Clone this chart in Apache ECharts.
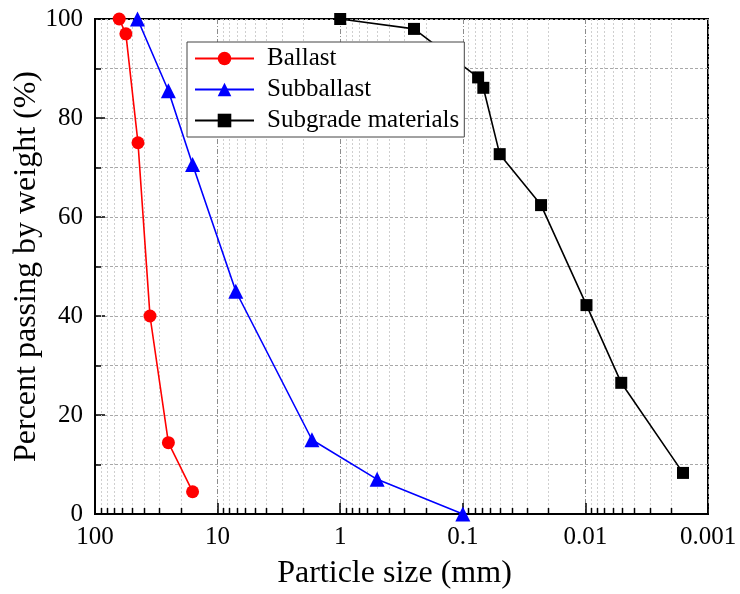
<!DOCTYPE html>
<html>
<head>
<meta charset="utf-8">
<script src="https://cdn.jsdelivr.net/npm/echarts@6/dist/echarts.min.js"></script>
<style>
  html, body { margin: 0; padding: 0; background: #fff; }
  #chart { width: 740px; height: 594px; }
</style>
</head>
<body>
<div id="chart"></div>
<script>
// Grain size distribution: percent passing vs particle size (log scale, reversed)
const FONT = '"Liberation Serif", "Times New Roman", serif'

const ballastSize = [63.5, 56, 44.6, 35.6, 25.2, 16]
const ballastPass = [100, 97, 75, 40, 14.4, 4.5]

const subballastSize = [45, 25.2, 16, 7.1, 1.7, 0.5, 0.1]
const subballastPass = [100, 85.5, 70.6, 45, 15, 7, 0]

const subgradeSize = [1, 0.25, 0.075, 0.068, 0.05, 0.023, 0.0098, 0.0051, 0.0016]
const subgradePass = [100, 98, 88.2, 86.1, 72.7, 62.4, 42.2, 26.5, 8.3]

// minor log positions (2..9 in each decade) for the light grid and short ticks
const minorSizes = []
;[10, 1, 0.1, 0.01, 0.001].forEach(function (d) {
  for (let k = 2; k <= 9; k++) minorSizes.push(+(d * k).toPrecision(2))
})

function pairs(xs, ys) {
  return xs.map(function (x, i) { return [x, ys[i]] })
}

const chart = echarts.init(document.getElementById('chart'))

chart.setOption({
  animation: false,
  backgroundColor: '#fff',
  textStyle: { fontFamily: FONT },
  grid: {
    left: 95, right: 32, top: 19, bottom: 80,
    outerBoundsMode: 'none', containLabel: false,
    show: true, borderColor: '#000', borderWidth: 2
  },
  legend: {
    data: ['Ballast', 'Subballast', 'Subgrade materials'],
    orient: 'vertical',
    left: 187, top: 42,
    padding: [4, 5, 4, 7],
    itemGap: 6,
    itemWidth: 59, itemHeight: 17,
    backgroundColor: '#fff',
    borderColor: '#444', borderWidth: 1,
    selectedMode: false,
    textStyle: { fontFamily: FONT, fontSize: 25, color: '#000', padding: [0, 0, 0, 8] }
  },
  xAxis: {
    type: 'log', logBase: 10,
    min: 0.001, max: 100,
    inverse: true,
    name: 'Particle size (mm)',
    nameLocation: 'middle', nameGap: 44,
    nameTextStyle: { fontFamily: FONT, fontSize: 32, color: '#000', padding: [0, 14, 0, 0] },
    axisLine: { show: true, onZero: false, lineStyle: { color: '#000', width: 2 } },
    axisTick: { show: true, inside: true, length: 11, lineStyle: { color: '#000', width: 1.5 } },
    axisLabel: {
      fontFamily: FONT, fontSize: 25, color: '#000', margin: 11,
      formatter: function (v) { return String(+(+v).toPrecision(1)) }
    },
    splitLine: { show: true, lineStyle: { color: '#8c8c8c', width: 1, type: [5, 2, 1, 2] } }
  },
  yAxis: {
    type: 'value',
    min: 0, max: 100, interval: 20,
    name: 'Percent passing by weight (%)',
    nameLocation: 'middle', nameGap: 52,
    nameMoveOverlap: false,
    nameTextStyle: { fontFamily: FONT, fontSize: 32, color: '#000' },
    axisLine: { show: true, lineStyle: { color: '#000', width: 2 } },
    axisTick: { show: true, inside: true, length: 10, lineStyle: { color: '#000', width: 1.5 } },
    minorTick: { show: true, splitNumber: 2, length: 6, lineStyle: { color: '#000', width: 1.5 } },
    axisLabel: { fontFamily: FONT, fontSize: 25, color: '#000', margin: 12 },
    splitLine: { show: true, lineStyle: { color: '#a8a8a8', width: 1, type: [3, 2] } },
    minorSplitLine: { show: true, lineStyle: { color: '#a8a8a8', width: 1, type: [3, 2] } }
  },
  series: [
    {
      // light minor grid + short inward ticks on the log axis
      type: 'custom',
      name: 'minor',
      silent: true,
      z: 1,
      data: minorSizes.map(function (v) { return [v, 0] }),
      renderItem: function (params, api) {
        const v = api.value(0)
        const top = api.coord([v, 100])
        const bot = api.coord([v, 0])
        const x = Math.round(bot[0]) + 0.5
        return {
          type: 'group',
          children: [
            { type: 'line', shape: { x1: x, y1: top[1], x2: x, y2: bot[1] },
              style: { stroke: '#cfcfcf', lineWidth: 1, lineDash: [2, 2] } },
            { type: 'line', shape: { x1: x, y1: bot[1], x2: x, y2: bot[1] - 6 },
              style: { stroke: '#000', lineWidth: 1.5 } }
          ]
        }
      }
    },
    {
      name: 'Ballast', type: 'line', z: 3,
      data: pairs(ballastSize, ballastPass),
      symbol: 'circle', symbolSize: 13,
      lineStyle: { color: '#ff0000', width: 1.6 },
      itemStyle: { color: '#ff0000' }
    },
    {
      name: 'Subballast', type: 'line', z: 3,
      data: pairs(subballastSize, subballastPass),
      symbol: 'triangle', symbolSize: 15,
      lineStyle: { color: '#0000ff', width: 1.6 },
      itemStyle: { color: '#0000ff' }
    },
    {
      name: 'Subgrade materials', type: 'line', z: 3,
      data: pairs(subgradeSize, subgradePass),
      symbol: 'rect', symbolSize: 12,
      lineStyle: { color: '#000', width: 1.6 },
      itemStyle: { color: '#000' }
    }
  ]
})
</script>
</body>
</html>
